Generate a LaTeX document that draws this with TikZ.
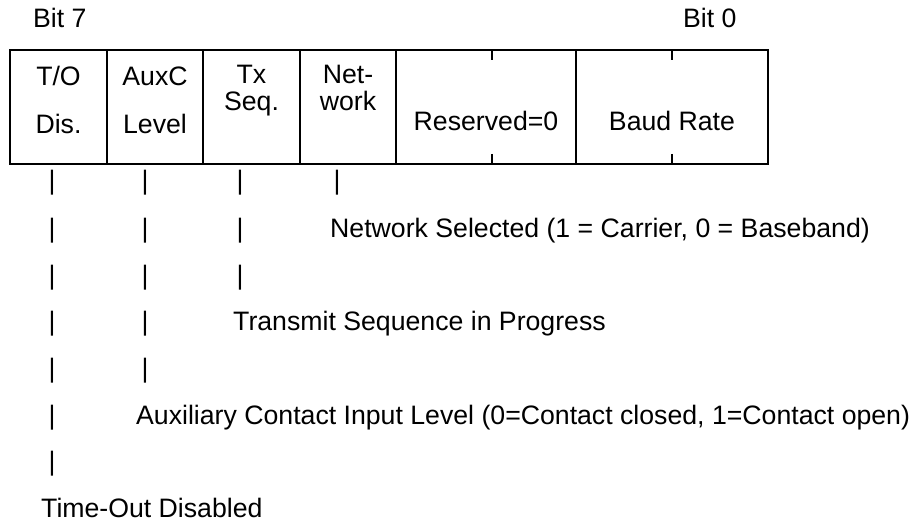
\documentclass[tikz,border=0pt]{standalone}
\usepackage{fontspec}
\setmainfont{Liberation Sans}
\begin{document}
\begin{tikzpicture}[x=1pt,y=-1pt,
  txt/.style={inner sep=0pt,font=\fontsize{26.67}{32}\selectfont},
  frame/.style={line width=1.8pt},
  divider/.style={line width=1.5pt},
  tick/.style={line width=1.5pt}]
\useasboundingbox (0,0) rectangle (912,521);
% header
\node[txt,anchor=base west] (b7) at (33,28) {Bit 7};
\node[txt,anchor=base west] (b0) at (683,28) {Bit 0};
% register box
\draw[frame] (10,50) rectangle (768,164);
\foreach \x in {107,203,300,396,576} \draw[divider] (\x,50) -- (\x,164);
\foreach \x in {492,672} {
  \draw[tick] (\x,50) -- (\x,60);
  \draw[tick] (\x,154) -- (\x,164);
}
% cell texts
\node[txt,anchor=base] (to1) at (58.5,86) {T/O};
\node[txt,anchor=base] (to2) at (58.5,134) {Dis.};
\node[txt,anchor=base] (ax1) at (155,86) {AuxC};
\node[txt,anchor=base] (ax2) at (155,134) {Level};
\node[txt,anchor=base] (tx1) at (251.5,84) {Tx};
\node[txt,anchor=base] (tx2) at (251.5,111) {Seq.};
\node[txt,anchor=base] (nw1) at (348,84) {Net-};
\node[txt,anchor=base] (nw2) at (348,111) {work};
\node[txt,anchor=base] (rs) at (486,131) {Reserved=0};
\node[txt,anchor=base] (br) at (672,131) {Baud Rate};
% pipes
\def\rowA{190}\def\rowB{237}\def\rowC{284}\def\rowD{330}
\def\rowE{377}\def\rowF{424}\def\rowG{470}\def\rowH{517}
\node[txt,anchor=base] (p11) at (52,\rowA) {|};
\node[txt,anchor=base] (p12) at (145,\rowA) {|};
\node[txt,anchor=base] (p13) at (240,\rowA) {|};
\node[txt,anchor=base] (p14) at (337,\rowA) {|};
\node[txt,anchor=base] (p21) at (52,\rowB) {|};
\node[txt,anchor=base] (p22) at (145,\rowB) {|};
\node[txt,anchor=base] (p23) at (240,\rowB) {|};
\node[txt,anchor=base west] (ns) at (330,\rowB) {Network Selected (1 = Carrier, 0 = Baseband)};
\node[txt,anchor=base] (p31) at (52,\rowC) {|};
\node[txt,anchor=base] (p32) at (145,\rowC) {|};
\node[txt,anchor=base] (p33) at (240,\rowC) {|};
\node[txt,anchor=base] (p41) at (52,\rowD) {|};
\node[txt,anchor=base] (p42) at (145,\rowD) {|};
\node[txt,anchor=base west] (tsp) at (233,\rowD) {Transmit Sequence in Progress};
\node[txt,anchor=base] (p51) at (52,\rowE) {|};
\node[txt,anchor=base] (p52) at (145,\rowE) {|};
\node[txt,anchor=base] (p61) at (52,\rowF) {|};
\node[txt,anchor=base west] (aux) at (136,\rowF) {Auxiliary Contact Input Level (0=Contact closed, 1=Contact open)};
\node[txt,anchor=base] (p71) at (52,\rowG) {|};
\node[txt,anchor=base west] (tod) at (41,\rowH) {Time-Out Disabled};
\end{tikzpicture}
\end{document}
